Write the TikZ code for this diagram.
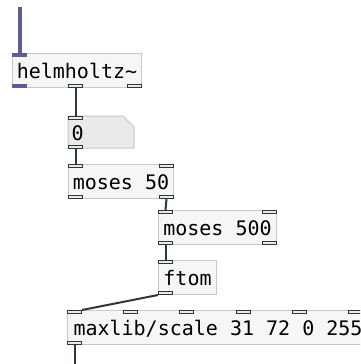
\documentclass[tikz,border=0pt]{standalone}
\usepackage{fontspec}
\newfontfamily\pdfont{DejaVu Sans Mono}
\usetikzlibrary{positioning}
\definecolor{sigcol}{RGB}{92,92,152}
\definecolor{wirecol}{RGB}{44,60,44}
\definecolor{boxline}{RGB}{200,200,200}
\definecolor{boxfill}{RGB}{246,246,246}
\definecolor{numfill}{RGB}{234,234,234}
\definecolor{portfill}{RGB}{232,236,232}
\tikzset{
    obj/.style={rectangle, draw=boxline, fill=boxfill, line width=1pt,
      inner xsep=4pt, inner ysep=0pt, text height=25pt, text depth=9pt,
      font=\pdfont\fontsize{20pt}{20pt}\selectfont, anchor=north west},
    port/.style={rectangle, draw=wirecol, fill=portfill, line width=1pt,
      minimum width=14pt, minimum height=3pt, inner sep=0pt},
    sigport/.style={port, draw=sigcol, fill=sigcol},
    wire/.style={draw=wirecol, line width=2pt},
    sigwire/.style={draw=sigcol, line width=4pt},
}

\begin{document}
\begin{tikzpicture}[x=1pt,y=-1pt]
 \useasboundingbox[fill=white] (0,0) rectangle (360,364);
 \clip (0,0) rectangle (360,364);

 % helmholtz~ with its signal in/out
 \node[obj, minimum width=129pt] (helm) at (12,53) {helmholtz\textasciitilde};
 \node[sigport, anchor=north west] (helm-i1) at (helm.north west) {};
 \node[sigport, anchor=south west] (helm-o1) at (helm.south west) {};
 \node[port, anchor=south west] (helm-o2) at ([xshift=56pt]helm.south west) {};
 \node[port, anchor=south east] (helm-o3) at (helm.south east) {};

 % number box, corner cut off
 \filldraw[draw=boxline, fill=numfill, line width=1pt]
    (68,116) -- (123,116) -- (134,127) -- (134,148) -- (68,148) -- cycle;
 \node[obj, draw=none, fill=none, text height=24pt, text depth=8pt,
    inner xsep=3pt, text width=60pt, align=left] (num) at (68,116) {0};
 \node[port, anchor=north west] (num-i1) at (num.north west) {};
 \node[port, anchor=south west] (num-o1) at (num.south west) {};

 \node[obj, minimum width=105pt] (m50) at (68,164) {moses 50};
 \node[port, anchor=north west] (m50-i1) at (m50.north west) {};
 \node[port, anchor=north east] (m50-i2) at (m50.north east) {};
 \node[port, anchor=south west] (m50-o1) at (m50.south west) {};
 \node[port, anchor=south east] (m50-o2) at (m50.south east) {};

 \node[obj, minimum width=118pt] (m500) at (158,210) {moses 500};
 \node[port, anchor=north west] (m500-i1) at (m500.north west) {};
 \node[port, anchor=north east] (m500-i2) at (m500.north east) {};
 \node[port, anchor=south west] (m500-o1) at (m500.south west) {};
 \node[port, anchor=south east] (m500-o2) at (m500.south east) {};

 \node[obj, minimum width=58pt] (ftom) at (158,260) {ftom};
 \node[port, anchor=north west] (ftom-i1) at (ftom.north west) {};
 \node[port, anchor=south west] (ftom-o1) at (ftom.south west) {};

 \node[obj, minimum width=301pt] (scale) at (67,310) {maxlib/scale 31 72 0 255};
 \foreach \i [count=\n] in {0,...,5}
    \node[port, anchor=north west] (scale-i\n) at ([xshift=\i*56.2pt]scale.north west) {};
 \node[port, anchor=south west] (scale-o1) at (scale.south west) {};

 % connections
 \coordinate (src) at (19.5,7);
 \coordinate (sink) at (74.5,364);
 \draw[sigwire] (src) -- (helm-i1.north);
 \draw[wire] (helm-o2.south) -- (num-i1.north);
 \draw[wire] (num-o1.south) -- (m50-i1.north);
 \draw[wire] (m50-o2.south) -- (m500-i1.north);
 \draw[wire] (m500-o1.south) -- (ftom-i1.north);
 \draw[wire] (ftom-o1.south west) -- (scale-i1.north east);
 \draw[wire] (scale-o1.south) -- (sink);
\end{tikzpicture}
\end{document}
